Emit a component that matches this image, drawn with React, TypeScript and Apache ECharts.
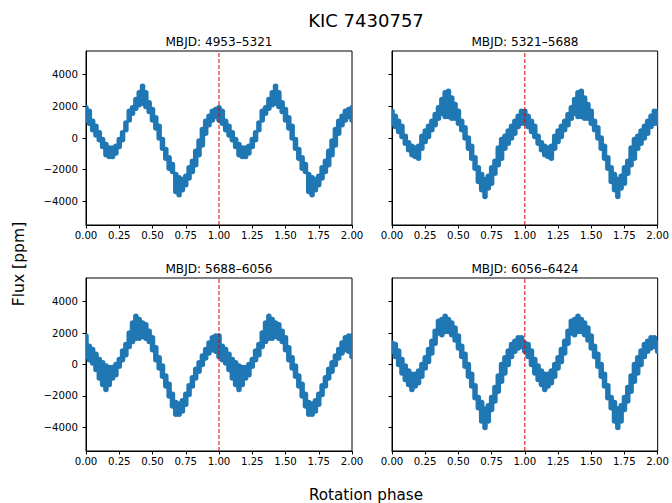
import React, { useEffect, useRef } from "react";
import * as echarts from "echarts";

const FIG_TITLE = "KIC 7430757";
const PANEL_TITLES = ["MBJD: 4953–5321", "MBJD: 5321–5688", "MBJD: 5688–6056", "MBJD: 6056–6424"];
const X_LABEL = "Rotation phase";
const Y_LABEL = "Flux [ppm]";
const Y_TICKS = [-4000, -2000, 0, 2000, 4000];

const PHASE = [
  0.0, 0.025, 0.05, 0.075, 0.1, 0.125, 0.15, 0.175, 0.2, 0.225,
  0.25, 0.275, 0.3, 0.325, 0.35, 0.375, 0.4, 0.425, 0.45, 0.475,
  0.5, 0.525, 0.55, 0.575, 0.6, 0.625, 0.65, 0.675, 0.7, 0.725,
  0.75, 0.775, 0.8, 0.825, 0.85, 0.875, 0.9, 0.925, 0.95, 0.975,
];

// Panel 1: MBJD 4953–5321 (upper / lower envelope of folded flux)
const P1_HIGH = [
  2000, 1790, 1160, 840, 420, 0, -315, -530, -530, -420,
  0, 420, 1050, 1790, 2000, 2530, 2950, 3370, 2950, 2320,
  1900, 1370, 840, 0, -630, -1160, -1580, -2210, -2420, -2530,
  -2320, -1790, -1370, -740, -100, 630, 1160, 1470, 1790, 1900,
];
const P1_LOW = [
  1050, 840, 420, 100, -210, -630, -1160, -1260, -1260, -1050,
  -630, -210, 420, 1050, 1470, 1790, 2000, 2100, 1900, 1580,
  1050, 530, -100, -740, -1370, -2000, -2210, -3470, -3680, -3370,
  -3050, -2630, -2210, -1790, -1160, -530, 210, 740, 1050, 1260,
];

// Panel 2: MBJD 5321–5688
const P2_HIGH = [
  1790, 1470, 1160, 840, 210, -210, -420, -530, -420, 210,
  530, 840, 1160, 1580, 2000, 2530, 2950, 3050, 2630, 2210,
  1790, 1160, 740, 100, -420, -1160, -1790, -2210, -2530, -2320,
  -1790, -1370, -530, 0, 210, 530, 840, 1160, 1470, 1790,
];
const P2_LOW = [
  840, 630, 320, 0, -420, -840, -1160, -1260, -1370, -740,
  -320, 0, 420, 740, 1160, 1470, 1260, 1260, 1160, 1160,
  840, 420, -100, -740, -1370, -2000, -2840, -3370, -3790, -3260,
  -2950, -2320, -1790, -1370, -740, -420, -100, 210, 630, 840,
];

// Panel 3: MBJD 5688–6056
const P3_HIGH = [
  1900, 1260, 1050, 740, 420, 210, 0, -100, -100, 100,
  420, 950, 1370, 2100, 2740, 3160, 2950, 2740, 2630, 2210,
  1790, 1160, 530, 0, -630, -1160, -1790, -2320, -2420, -2210,
  -1790, -1260, -740, -210, 210, 630, 1050, 1470, 1790, 1900,
];
const P3_LOW = [
  420, 210, 0, -420, -950, -1370, -1680, -1370, -950, -740,
  -210, 210, 530, 1050, 1370, 1580, 1580, 1680, 1580, 1370,
  840, 210, -320, -840, -1470, -2100, -2740, -3260, -3260, -3050,
  -2630, -2000, -1470, -950, -530, -100, 320, 630, 840, 740,
];

// Panel 4: MBJD 6056–6424
const P4_HIGH = [
  1470, 1370, 950, 420, 0, -320, -530, -530, -320, 100,
  530, 1050, 1580, 2210, 2840, 2950, 3160, 2950, 2740, 2420,
  1900, 1260, 740, 100, -530, -1260, -2000, -2320, -2740, -2530,
  -2000, -1370, -630, 100, 530, 950, 1370, 1580, 1790, 1790,
];
const P4_LOW = [
  740, 420, -100, -630, -1050, -1370, -1680, -1470, -1260, -840,
  -320, 100, 630, 1260, 1900, 1790, 2000, 2000, 1790, 1470,
  950, 420, -210, -840, -1470, -2210, -2840, -3680, -4100, -3680,
  -2950, -2420, -1790, -1160, -630, -100, 420, 740, 950, 1050,
];

const PANELS = [
  { title: PANEL_TITLES[0], high: P1_HIGH, low: P1_LOW },
  { title: PANEL_TITLES[1], high: P2_HIGH, low: P2_LOW },
  { title: PANEL_TITLES[2], high: P3_HIGH, low: P3_LOW },
  { title: PANEL_TITLES[3], high: P4_HIGH, low: P4_LOW },
];

const GRIDS = [
  { left: 86, top: 51, width: 266, height: 174 },
  { left: 392, top: 51, width: 266, height: 174 },
  { left: 86, top: 278, width: 266, height: 173 },
  { left: 392, top: 278, width: 266, height: 173 },
];

const FONT = "DejaVu Sans";
const BLUE = "#1f77b4";

function foldedData(low: number[], high: number[]) {
  const out: number[][] = [];
  for (const cycle of [0, 1]) {
    PHASE.forEach((p, i) => out.push([p + cycle, low[i], high[i]]));
  }
  out.push([2, low[0], high[0]]);
  return out;
}

const minus = (v: number) => String(v).replace("-", "\u2212");

export default function App() {
  const ref = useRef<HTMLDivElement>(null);
  useEffect(() => {
    if (!ref.current) return;
    const chart = echarts.init(ref.current, null, { renderer: "svg" });
    const xAxes: any[] = [];
    const yAxes: any[] = [];
    const series: any[] = [];
    const graphic: any[] = [];
    PANELS.forEach((pn, i) => {
      const isLeft = i % 2 === 0;
      xAxes.push({
        type: "value",
        gridIndex: i,
        min: 0,
        max: 2,
        interval: 0.25,
        axisLine: { show: true, onZero: false, lineStyle: { color: "#000", width: 1 } },
        axisTick: { show: true, length: 3.5, lineStyle: { color: "#000" } },
        axisLabel: {
          show: true,
          margin: 5,
          color: "#000",
          fontFamily: FONT,
          fontSize: 10.2,
          formatter: (v: number) => v.toFixed(2),
        },
        splitLine: { show: false },
      });
      yAxes.push({
        type: "value",
        gridIndex: i,
        min: -5500,
        max: 5500,
        axisLine: { show: true, onZero: false, lineStyle: { color: "#000", width: 1 } },
        axisTick: { show: true, length: 3.5, customValues: Y_TICKS, lineStyle: { color: "#000" } },
        axisLabel: {
          show: isLeft,
          customValues: Y_TICKS,
          margin: 8,
          color: "#000",
          fontFamily: FONT,
          fontSize: 10.2,
          formatter: (v: number) => minus(v),
        },
        splitLine: { show: false },
      });
      series.push({
        type: "custom",
        xAxisIndex: i,
        yAxisIndex: i,
        clip: true,
        data: foldedData(pn.low, pn.high),
        encode: { x: 0, y: [1, 2] },
        renderItem: (_params: any, api: any) => {
          const x = api.value(0);
          const lo = api.value(1);
          const hi = api.value(2);
          const pHi = api.coord([x, hi]);
          const pLo = api.coord([x, lo]);
          return {
            type: "line",
            shape: { x1: pHi[0], y1: pHi[1] + 1.5, x2: pHi[0], y2: pLo[1] - 1.5 },
            style: { stroke: BLUE, lineWidth: 5.5, lineCap: "round" },
          };
        },
        z: 2,
      });
      series.push({
        type: "line",
        xAxisIndex: i,
        yAxisIndex: i,
        data: [
          [1, -5500],
          [1, 5500],
        ],
        symbol: "none",
        lineStyle: { color: "#e00000", width: 1, type: [4, 2] },
        z: 3,
      });
      const g = GRIDS[i];
      graphic.push({
        type: "text",
        x: g.left + g.width / 2,
        y: g.top - 9,
        style: {
          text: pn.title,
          fontFamily: FONT,
          fontSize: 12.1,
          fill: "#000",
          textAlign: "center",
          textVerticalAlign: "middle",
        },
      });
    });
    graphic.push({
      type: "text",
      x: 366,
      y: 20,
      style: {
        text: FIG_TITLE,
        fontFamily: FONT,
        fontSize: 18,
        fill: "#000",
        textAlign: "center",
        textVerticalAlign: "middle",
      },
    });
    graphic.push({
      type: "text",
      x: 366,
      y: 495,
      style: {
        text: X_LABEL,
        fontFamily: FONT,
        fontSize: 15.2,
        fill: "#000",
        textAlign: "center",
        textVerticalAlign: "middle",
      },
    });
    graphic.push({
      type: "text",
      x: 19,
      y: 264,
      rotation: Math.PI / 2,
      style: {
        text: Y_LABEL,
        fontFamily: FONT,
        fontSize: 15.6,
        fill: "#000",
        textAlign: "center",
        textVerticalAlign: "middle",
      },
    });
    chart.setOption({
      animation: false,
      backgroundColor: "#fff",
      grid: GRIDS.map((g) => ({ ...g, show: true, borderColor: "#000", borderWidth: 1, containLabel: false })),
      xAxis: xAxes,
      yAxis: yAxes,
      series,
      graphic,
    });
    return () => chart.dispose();
  }, []);
  return <div ref={ref} style={{ width: 672, height: 503, position: "absolute", left: 0, top: 0 }} />;
}
